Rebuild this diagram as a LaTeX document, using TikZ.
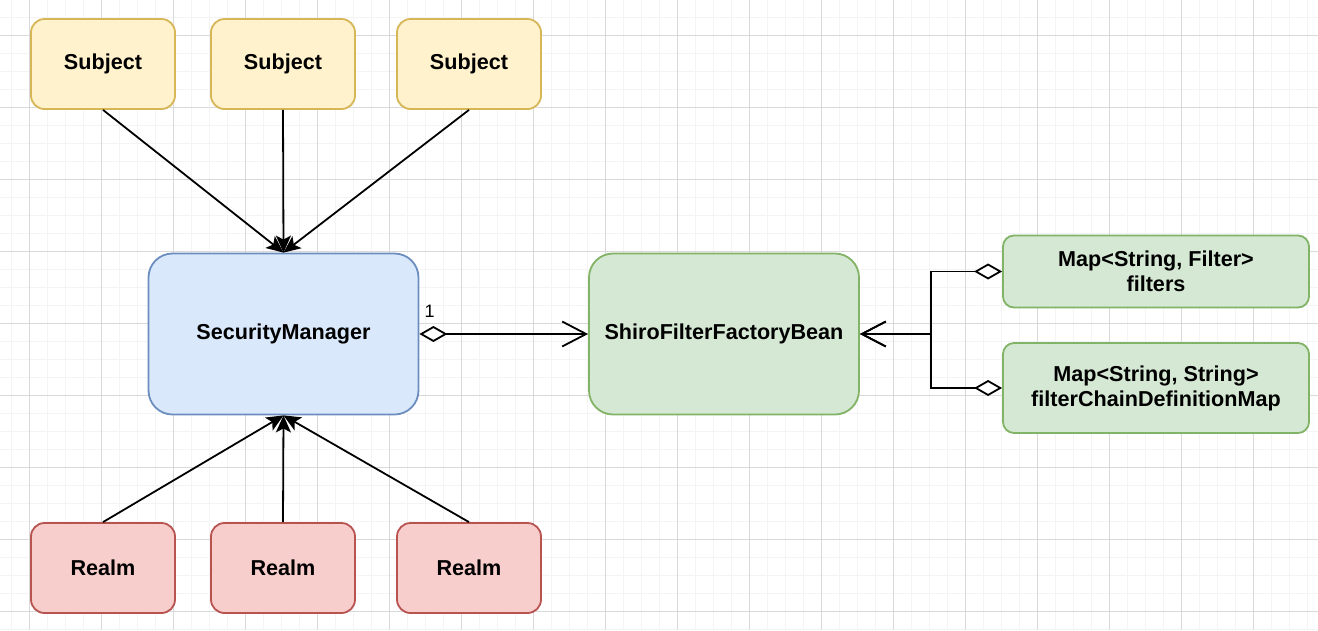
\documentclass[tikz,border=0pt]{standalone}
\usepackage{fontspec}
\setmainfont{Liberation Sans}
\usetikzlibrary{arrows.meta}
\definecolor{subjfill}{HTML}{FFF2CC}
\definecolor{subjdraw}{HTML}{D6B656}
\definecolor{smfill}{HTML}{DAE8FC}
\definecolor{smdraw}{HTML}{6C8EBF}
\definecolor{grfill}{HTML}{D5E8D4}
\definecolor{grdraw}{HTML}{82B366}
\definecolor{rlfill}{HTML}{F8CECC}
\definecolor{rldraw}{HTML}{B85450}
\definecolor{gridmajor}{HTML}{D9D9D9}
\definecolor{gridminor}{HTML}{F4F4F4}
\tikzset{
  box/.style={draw, line width=1.8pt, inner sep=0pt, align=center,
    font=\fontsize{21.6}{25}\selectfont\bfseries},
  subjbox/.style={box, fill=subjfill, draw=subjdraw, minimum width=144pt, minimum height=90pt, rounded corners=13.5pt},
  realmbox/.style={box, fill=rlfill, draw=rldraw, minimum width=144pt, minimum height=90pt, rounded corners=13.5pt},
  bigbox/.style={box, minimum width=270pt, minimum height=161pt, rounded corners=24pt},
  mapbox/.style={box, fill=grfill, draw=grdraw, minimum width=306pt, rounded corners=11pt},
  blockarrow/.style={line width=1.8pt, -{Stealth[length=17pt,width=15pt,inset=4pt]}},
  aggarrow/.style={line width=1.8pt, {Diamond[open,fill=white,length=28pt,width=16pt]}-{Straight Barb[length=24pt,width=25pt]}},
  mult/.style={font=\fontsize{18}{18}\selectfont, inner sep=0pt},
}
\begin{document}
\begin{tikzpicture}[x=1pt,y=-1pt]
\useasboundingbox (0,0) rectangle (1318,630);
% grid
\foreach \x in {11.3,29.3,...,1318} \draw[gridminor, line width=1pt] (\x,0) -- (\x,630);
\foreach \y in {17,35,...,630} \draw[gridminor, line width=1pt] (0,\y) -- (1318,\y);
\foreach \x in {29.3,101.3,...,1318} \draw[gridmajor, line width=1pt] (\x,0) -- (\x,630);
\foreach \y in {35,107,...,630} \draw[gridmajor, line width=1pt] (0,\y) -- (1318,\y);

% nodes
\node[subjbox] (s1) at (103,64) {Subject};
\node[subjbox] (s2) at (283,64) {Subject};
\node[subjbox] (s3) at (469,64) {Subject};
\node[bigbox, fill=smfill, draw=smdraw] (sm) at (283.5,334) {SecurityManager};
\node[bigbox, fill=grfill, draw=grdraw] (shiro) at (724,334) {ShiroFilterFactoryBean};
\node[mapbox, minimum height=72pt] (fil) at (1156,271.5) {Map<String, Filter>\\filters};
\node[mapbox, minimum height=90pt] (fcd) at (1156,388) {Map<String, String>\\filterChainDefinitionMap};
\node[realmbox] (r1) at (103,568) {Realm};
\node[realmbox] (r2) at (283,568) {Realm};
\node[realmbox] (r3) at (469,568) {Realm};
\node[mult, anchor=south west] (one) at ([xshift=5pt, yshift=16pt]sm.east) {1};
\coordinate (j) at (931,334);

% connectors
\draw[blockarrow] (s1.south) -- (sm.north);
\draw[blockarrow] (s2.south) -- (sm.north);
\draw[blockarrow] (s3.south) -- (sm.north);
\draw[blockarrow] (r1.north) -- (sm.south);
\draw[blockarrow] (r2.north) -- (sm.south);
\draw[blockarrow] (r3.north) -- (sm.south);
\draw[aggarrow] (sm.east) -- (shiro.west);
\draw[aggarrow] (fil.west) -| (j) -- (shiro.east);
\draw[aggarrow] (fcd.west) -| (j) -- (shiro.east);
\end{tikzpicture}
\end{document}
